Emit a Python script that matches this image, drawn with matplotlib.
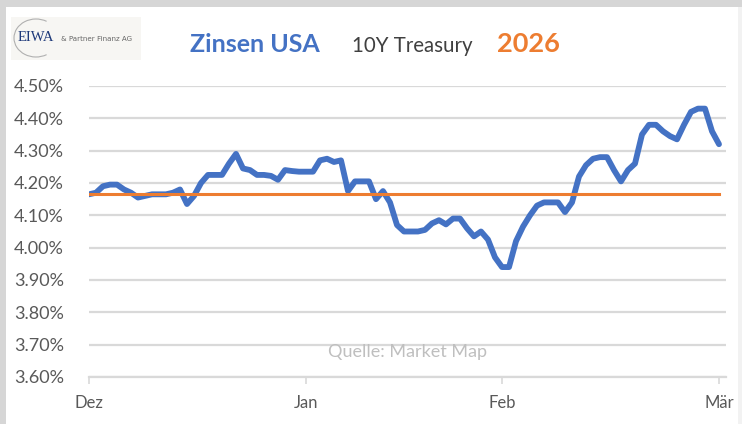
import matplotlib
matplotlib.use("Agg")
import matplotlib.pyplot as plt
from matplotlib.patches import Rectangle, Arc
from matplotlib.ticker import FuncFormatter

# ---- data ----
yields = [4.165, 4.17, 4.19, 4.195, 4.195, 4.18, 4.17, 4.155, 4.16, 4.165,
          4.165, 4.165, 4.17, 4.18, 4.135, 4.16, 4.20, 4.225, 4.225, 4.225,
          4.26, 4.29, 4.245, 4.24, 4.225, 4.225, 4.222, 4.21, 4.24, 4.237,
          4.235, 4.235, 4.235, 4.27, 4.275, 4.265, 4.27, 4.175, 4.205, 4.205,
          4.205, 4.15, 4.175, 4.14, 4.07, 4.05, 4.05, 4.05, 4.055, 4.075,
          4.085, 4.072, 4.09, 4.09, 4.06, 4.035, 4.05, 4.025, 3.97, 3.94,
          3.94, 4.02, 4.065, 4.10, 4.13, 4.14, 4.14, 4.14, 4.11, 4.14,
          4.22, 4.255, 4.275, 4.28, 4.28, 4.24, 4.205, 4.24, 4.26, 4.35,
          4.38, 4.38, 4.36, 4.345, 4.335, 4.38, 4.42, 4.43, 4.43, 4.36,
          4.32]
start_level = 4.167
month_labels = ["Dez", "Jan", "Feb", "Mär"]
month_pos = [0, 31, 59, 90]
y_ticks = [3.60, 3.70, 3.80, 3.90, 4.00, 4.10, 4.20, 4.30, 4.40, 4.50]

W, H = 742, 424
fig = plt.figure(figsize=(W / 100, H / 100), dpi=100)
fig.patch.set_facecolor("#d6d6d6")

def fx(px):
    return px / W

def fy(py):
    return 1 - py / H

# white card
fig.patches.append(Rectangle((fx(6), 0), fx(732), fy(7), transform=fig.transFigure,
                             facecolor="white", edgecolor="none", zorder=-2))
fig.patches.append(Rectangle((fx(738), 0), fx(4), fy(7), transform=fig.transFigure,
                             facecolor="#f2f2f2", edgecolor="none", zorder=-2))

# logo
fig.patches.append(Rectangle((fx(11), fy(60)), fx(130), 43 / H, transform=fig.transFigure,
                             facecolor="#f7f6f3", edgecolor="none", zorder=-1))
fig.patches.append(Arc((fx(36), fy(38)), 44 / W, 38 / H, theta1=70, theta2=290,
                       transform=fig.transFigure, color="#b0b0b0", lw=0.8, zorder=-1))
fig.text(fx(18), fy(41), "EIWA", fontfamily="Liberation Serif", fontsize=10.5,
         color="#1f3a7a", va="baseline", ha="left", zorder=3)
fig.text(fx(61), fy(41), "& Partner Finanz AG", fontfamily="Liberation Sans Narrow",
         fontsize=5.1, color="#666666", va="baseline", ha="left", zorder=3)

# title
fig.text(fx(190), fy(52), "Zinsen USA", fontfamily="Lato", fontweight="bold",
         fontsize=18, color="#4472C4", va="baseline", ha="left")
fig.text(fx(352), fy(52), "10Y Treasury", fontfamily="Lato",
         fontsize=14.8, color="#404040", va="baseline", ha="left")
fig.text(fx(497), fy(52), "2026", fontfamily="Lato", fontweight="bold",
         fontsize=19.5, color="#ED7D31", va="baseline", ha="left")

# axes
ax = fig.add_axes([fx(89), fy(377), fx(726) - fx(89), fy(86) - fy(377)])
ax.set_zorder(2)
ax.patch.set_alpha(0)
xs = list(range(len(yields)))
ax.set_xlim(0, 91)
ax.set_ylim(3.60, 4.50)
ax.set_yticks(y_ticks)
ax.yaxis.set_major_formatter(FuncFormatter(lambda v, p: f"{v:.2f}%"))
ax.grid(axis="y", color="#d9d9d9", lw=1.6, zorder=0)
ax.set_axisbelow(True)
for s in ["top", "right", "left"]:
    ax.spines[s].set_visible(False)
ax.spines["bottom"].set_color("#d9d9d9")
ax.spines["bottom"].set_linewidth(1.6)
ax.set_xticks(month_pos)
ax.set_xticklabels(month_labels)
ax.tick_params(axis="x", length=5, width=1.2, color="#d9d9d9", pad=8,
               labelsize=12, labelcolor="#595959")
ax.tick_params(axis="y", length=0, pad=18, labelsize=13, labelcolor="#595959")
for lab in ax.get_xticklabels() + ax.get_yticklabels():
    lab.set_fontfamily("Lato")

ax.plot(xs, yields, color="#4472C4", lw=4.2, solid_joinstyle="round",
        solid_capstyle="round", zorder=3)
ax.plot([0, xs[-1]], [start_level, start_level], color="#ED7D31", lw=2.2, zorder=4)

ax.text(0.5, 0.085, "Quelle: Market Map", transform=ax.transAxes, ha="center",
        va="center", fontsize=13, color="#bfbfbf", fontfamily="Lato")

fig.savefig("out.png", dpi=100, facecolor=fig.get_facecolor())
